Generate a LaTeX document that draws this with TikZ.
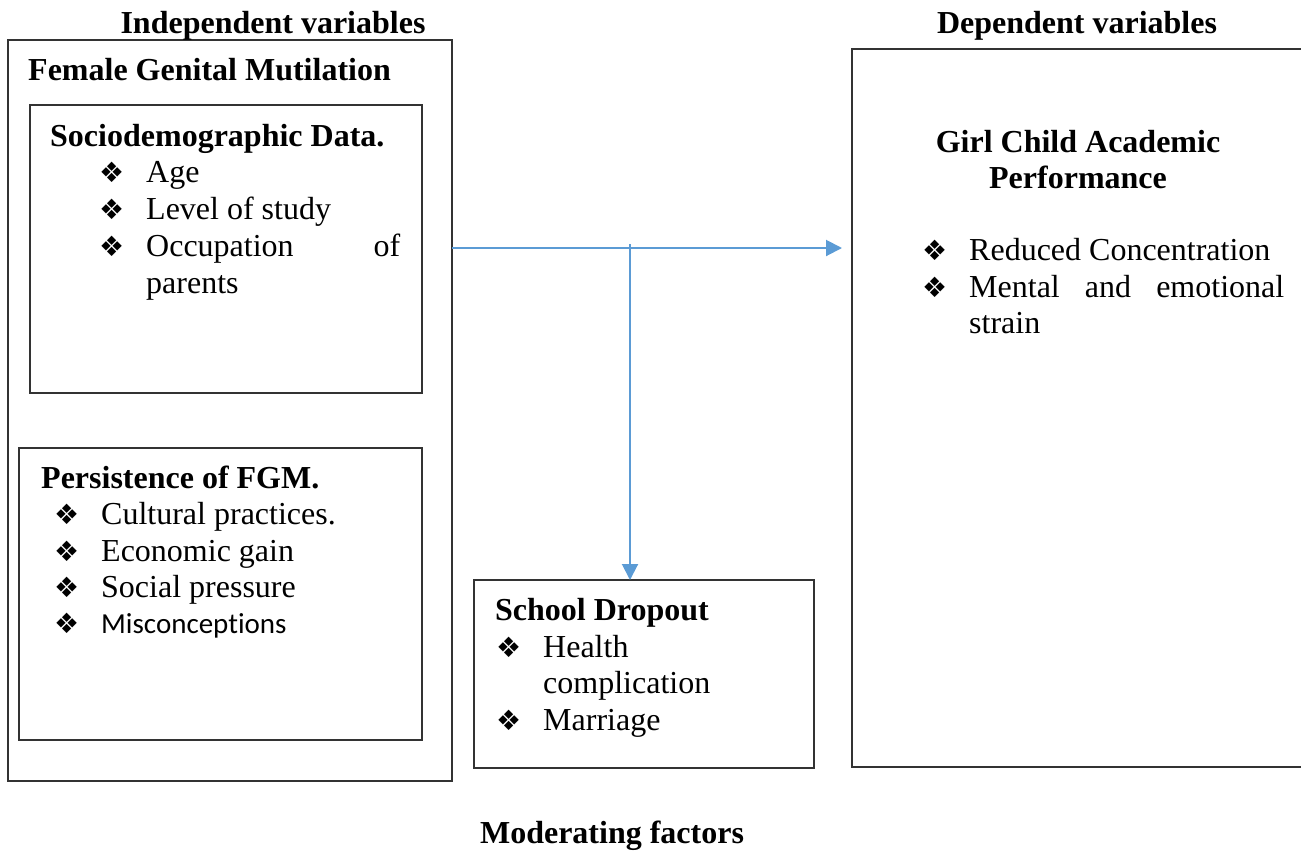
\documentclass[tikz,border=0pt]{standalone}
\usepackage{fontspec}
\setmainfont{Liberation Serif}
\newfontfamily\symfont{DejaVu Sans}
\newfontfamily\carlfont[Ligatures=NoCommon]{Carlito}
\usetikzlibrary{arrows.meta}
\definecolor{arrowblue}{HTML}{5B9BD5}
\definecolor{boxgray}{HTML}{333333}
\tikzset{
  box/.style={draw=boxgray, line width=1.5pt, inner sep=0pt, outer sep=0pt, anchor=north west},
  txt/.style={font=\fontsize{32}{37}\selectfont, inner sep=0pt, anchor=base west},
  head/.style={txt, font=\fontsize{32}{37}\selectfont\bfseries},
  headc/.style={head, anchor=base},
  bul/.style={font=\fontsize{28}{32}\symfont, inner sep=0pt, anchor=base west},
  conn/.style={draw=arrowblue, line width=2pt},
  tip/.style={-{Triangle[length=16pt,width=16pt]}},
}
\begin{document}
\begin{tikzpicture}[x=1pt,y=-1pt]
\useasboundingbox (0,0) rectangle (1301,852);

% boxes
\node[box, minimum width=444pt, minimum height=741pt] (outer) at (8,40) {};
\node[box, minimum width=392pt, minimum height=288pt] (socio) at (30,105) {};
\node[box, minimum width=403pt, minimum height=292pt] (persist) at (19,448) {};
\node[box, minimum width=340pt, minimum height=188pt] (dropout) at (474,580) {};
\node[box, minimum width=460pt, minimum height=718pt] (dep) at (852,49) {};

% titles
\node[headc] (indep) at (273,33) {Independent variables};
\node[headc] (deptitle) at (1077,33) {Dependent variables};
\node[headc] (moder) at (612,843) {Moderating factors};

% left outer
\node[head] (fgm) at (28,80) {Female Genital Mutilation};

% sociodemographic
\node[head] (sochead) at (50,146) {Sociodemographic Data.};
\node[bul] (sb1) at (99,182) {❖};
\node[txt] (st1) at (146,182) {Age};
\node[bul] (sb2) at (99,219) {❖};
\node[txt] (st2) at (146,219) {Level of study};
\node[bul] (sb3) at (99,256) {❖};
\node[txt] (st3) at (146,256) {\hbox to 254pt{Occupation\hfill of}};
\node[txt] (st4) at (146,293) {parents};

% persistence
\node[head] (perhead) at (41,488) {Persistence of FGM.};
\node[bul] (pb1) at (54,524) {❖};
\node[txt] (pt1) at (101,524) {Cultural practices.};
\node[bul] (pb2) at (54,561) {❖};
\node[txt] (pt2) at (101,561) {Economic gain};
\node[bul] (pb3) at (54,597) {❖};
\node[txt] (pt3) at (101,597) {Social pressure};
\node[bul] (pb4) at (54,633) {❖};
\node[txt, font=\fontsize{29}{35}\carlfont] (pt4) at (101,633) {Misconceptions};

% school dropout
\node[head] (drophead) at (495,620) {School Dropout};
\node[bul] (db1) at (496,657) {❖};
\node[txt] (dt1) at (543,657) {Health};
\node[txt] (dt2) at (543,693) {complication};
\node[bul] (db2) at (496,730) {❖};
\node[txt] (dt3) at (543,730) {Marriage};

% dependent
\node[headc] (girl1) at (1078,152) {Girl Child Academic};
\node[headc] (girl2) at (1078,188) {Performance};
\node[bul] (rb1) at (922,260) {❖};
\node[txt] (rt1) at (969,260) {Reduced Concentration};
\node[bul] (rb2) at (922,297) {❖};
\node[txt] (rt2) at (969,297) {\hbox to 315pt{Mental\hfill and\hfill emotional}};
\node[txt] (rt3) at (969,333) {strain};

% connectors
\coordinate (hy) at (452,248);
\coordinate (vs) at (630,244);
\draw[conn, tip, shorten >=10pt] (outer.east |- hy) -- (dep.west |- hy);
\draw[conn, tip] (vs) -- (vs |- dropout.north);
\end{tikzpicture}
\end{document}
